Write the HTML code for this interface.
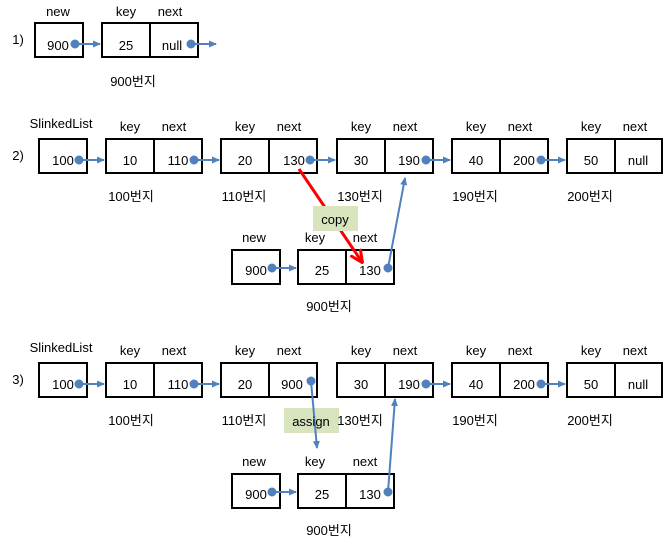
<!DOCTYPE html><html><head><meta charset="utf-8"><style>body{margin:0;background:#fff}svg text{font-family:"Liberation Sans","Noto Sans CJK KR",sans-serif;font-size:13px;fill:#000}</style></head><body>
<svg width="671" height="541" viewBox="0 0 671 541" xmlns="http://www.w3.org/2000/svg">
<defs><marker id="b" markerWidth="8" markerHeight="8" refX="7" refY="4" orient="auto" markerUnits="userSpaceOnUse"><path d="M0,0.5 L8,4 L0,7.5z" fill="#4f81bd"/></marker>
<marker id="r" markerWidth="14" markerHeight="14" refX="12" refY="7" orient="auto" markerUnits="userSpaceOnUse"><path d="M0,1 L13,7 L0,13" fill="none" stroke="#f00" stroke-width="3"/></marker></defs>
<g fill="none" stroke="#000" stroke-width="2">
<rect x="35" y="23" width="48" height="34"/><rect x="102" y="23" width="96" height="34"/><line x1="150" y1="23" x2="150" y2="57"/>
<rect x="39" y="139" width="48" height="34"/>
<rect x="106" y="139" width="96" height="34"/><line x1="154" y1="139" x2="154" y2="173"/>
<rect x="221" y="139" width="96" height="34"/><line x1="269" y1="139" x2="269" y2="173"/>
<rect x="337" y="139" width="96" height="34"/><line x1="385" y1="139" x2="385" y2="173"/>
<rect x="452" y="139" width="96" height="34"/><line x1="500" y1="139" x2="500" y2="173"/>
<rect x="567" y="139" width="95" height="34"/><line x1="615" y1="139" x2="615" y2="173"/>
<rect x="232" y="250" width="48" height="34"/><rect x="298" y="250" width="96" height="34"/><line x1="346" y1="250" x2="346" y2="284"/>
<rect x="39" y="363" width="48" height="34"/>
<rect x="106" y="363" width="96" height="34"/><line x1="154" y1="363" x2="154" y2="397"/>
<rect x="221" y="363" width="96" height="34"/><line x1="269" y1="363" x2="269" y2="397"/>
<rect x="337" y="363" width="96" height="34"/><line x1="385" y1="363" x2="385" y2="397"/>
<rect x="452" y="363" width="96" height="34"/><line x1="500" y1="363" x2="500" y2="397"/>
<rect x="567" y="363" width="95" height="34"/><line x1="615" y1="363" x2="615" y2="397"/>
<rect x="232" y="474" width="48" height="34"/><rect x="298" y="474" width="96" height="34"/><line x1="346" y1="474" x2="346" y2="508"/>
</g>
<rect x="313" y="206" width="45" height="25" fill="#d7e4bd"/>
<rect x="284" y="408" width="55" height="25" fill="#d7e4bd"/>
<g stroke="#4f81bd" stroke-width="2" fill="#4f81bd">
<circle cx="75" cy="44" r="3.5"/><line x1="75" y1="44" x2="100" y2="44" marker-end="url(#b)"/>
<circle cx="191" cy="44" r="3.5"/><line x1="191" y1="44" x2="216" y2="44" marker-end="url(#b)"/>
<circle cx="79" cy="160" r="3.5"/><line x1="79" y1="160" x2="104" y2="160" marker-end="url(#b)"/>
<circle cx="194" cy="160" r="3.5"/><line x1="194" y1="160" x2="219" y2="160" marker-end="url(#b)"/>
<circle cx="310" cy="160" r="3.5"/><line x1="310" y1="160" x2="335" y2="160" marker-end="url(#b)"/>
<circle cx="426" cy="160" r="3.5"/><line x1="426" y1="160" x2="450" y2="160" marker-end="url(#b)"/>
<circle cx="541" cy="160" r="3.5"/><line x1="541" y1="160" x2="565" y2="160" marker-end="url(#b)"/>
<circle cx="272" cy="268" r="3.5"/><line x1="272" y1="268" x2="296" y2="268" marker-end="url(#b)"/>
<circle cx="388" cy="268" r="3.5"/><line x1="388" y1="268" x2="405" y2="178" marker-end="url(#b)"/>
<circle cx="79" cy="384" r="3.5"/><line x1="79" y1="384" x2="104" y2="384" marker-end="url(#b)"/>
<circle cx="194" cy="384" r="3.5"/><line x1="194" y1="384" x2="219" y2="384" marker-end="url(#b)"/>
<circle cx="311" cy="381" r="3.5"/><line x1="311" y1="381" x2="317" y2="448" marker-end="url(#b)"/>
<circle cx="426" cy="384" r="3.5"/><line x1="426" y1="384" x2="450" y2="384" marker-end="url(#b)"/>
<circle cx="541" cy="384" r="3.5"/><line x1="541" y1="384" x2="565" y2="384" marker-end="url(#b)"/>
<circle cx="272" cy="492" r="3.5"/><line x1="272" y1="492" x2="296" y2="492" marker-end="url(#b)"/>
<circle cx="388" cy="492" r="3.5"/><line x1="388" y1="492" x2="395" y2="399" marker-end="url(#b)"/>
</g>
<line x1="299" y1="169" x2="362" y2="262" stroke="#f00" stroke-width="3" marker-end="url(#r)"/>
<rect x="313" y="206" width="45" height="25" fill="#d7e4bd"/>
<text x="18" y="44" text-anchor="middle" font-size="14">1)</text>
<text x="18" y="160" text-anchor="middle">2)</text>
<text x="18" y="384" text-anchor="middle">3)</text>
<g text-anchor="middle">
<text x="58" y="16">new</text><text x="126" y="16">key</text><text x="170" y="16">next</text>
<text x="58" y="50">900</text><text x="126" y="50">25</text><text x="172" y="50">null</text>
<text x="133" y="86">900번지</text>
<text x="61" y="128" font-size="12">SlinkedList</text>
<text x="130" y="131">key</text><text x="174" y="131">next</text>
<text x="245" y="131">key</text><text x="289" y="131">next</text>
<text x="361" y="131">key</text><text x="405" y="131">next</text>
<text x="476" y="131">key</text><text x="520" y="131">next</text>
<text x="591" y="131">key</text><text x="635" y="131">next</text>
<text x="63" y="165">100</text><text x="130" y="165">10</text><text x="178" y="165">110</text>
<text x="245" y="165">20</text><text x="294" y="165">130</text>
<text x="361" y="165">30</text><text x="409" y="165">190</text>
<text x="476" y="165">40</text><text x="524" y="165">200</text>
<text x="591" y="165">50</text><text x="638" y="165">null</text>
<text x="131" y="201">100번지</text><text x="244" y="201">110번지</text><text x="360" y="201">130번지</text><text x="475" y="201">190번지</text><text x="590" y="201">200번지</text>
<text x="335" y="224" font-size="14">copy</text>
<text x="254" y="242">new</text><text x="315" y="242">key</text><text x="365" y="242">next</text>
<text x="256" y="275">900</text><text x="322" y="275">25</text><text x="370" y="275">130</text>
<text x="329" y="311">900번지</text>
<text x="61" y="352" font-size="12">SlinkedList</text>
<text x="130" y="355">key</text><text x="174" y="355">next</text>
<text x="245" y="355">key</text><text x="289" y="355">next</text>
<text x="361" y="355">key</text><text x="405" y="355">next</text>
<text x="476" y="355">key</text><text x="520" y="355">next</text>
<text x="591" y="355">key</text><text x="635" y="355">next</text>
<text x="63" y="389">100</text><text x="130" y="389">10</text><text x="178" y="389">110</text>
<text x="245" y="389">20</text><text x="292" y="389">900</text>
<text x="361" y="389">30</text><text x="409" y="389">190</text>
<text x="476" y="389">40</text><text x="524" y="389">200</text>
<text x="591" y="389">50</text><text x="638" y="389">null</text>
<text x="131" y="425">100번지</text><text x="244" y="425">110번지</text><text x="360" y="425">130번지</text><text x="475" y="425">190번지</text><text x="590" y="425">200번지</text>
<text x="311" y="426" font-size="14">assign</text>
<text x="254" y="466">new</text><text x="315" y="466">key</text><text x="365" y="466">next</text>
<text x="256" y="499">900</text><text x="322" y="499">25</text><text x="370" y="499">130</text>
<text x="329" y="535">900번지</text>
</g>
</svg></body></html>
